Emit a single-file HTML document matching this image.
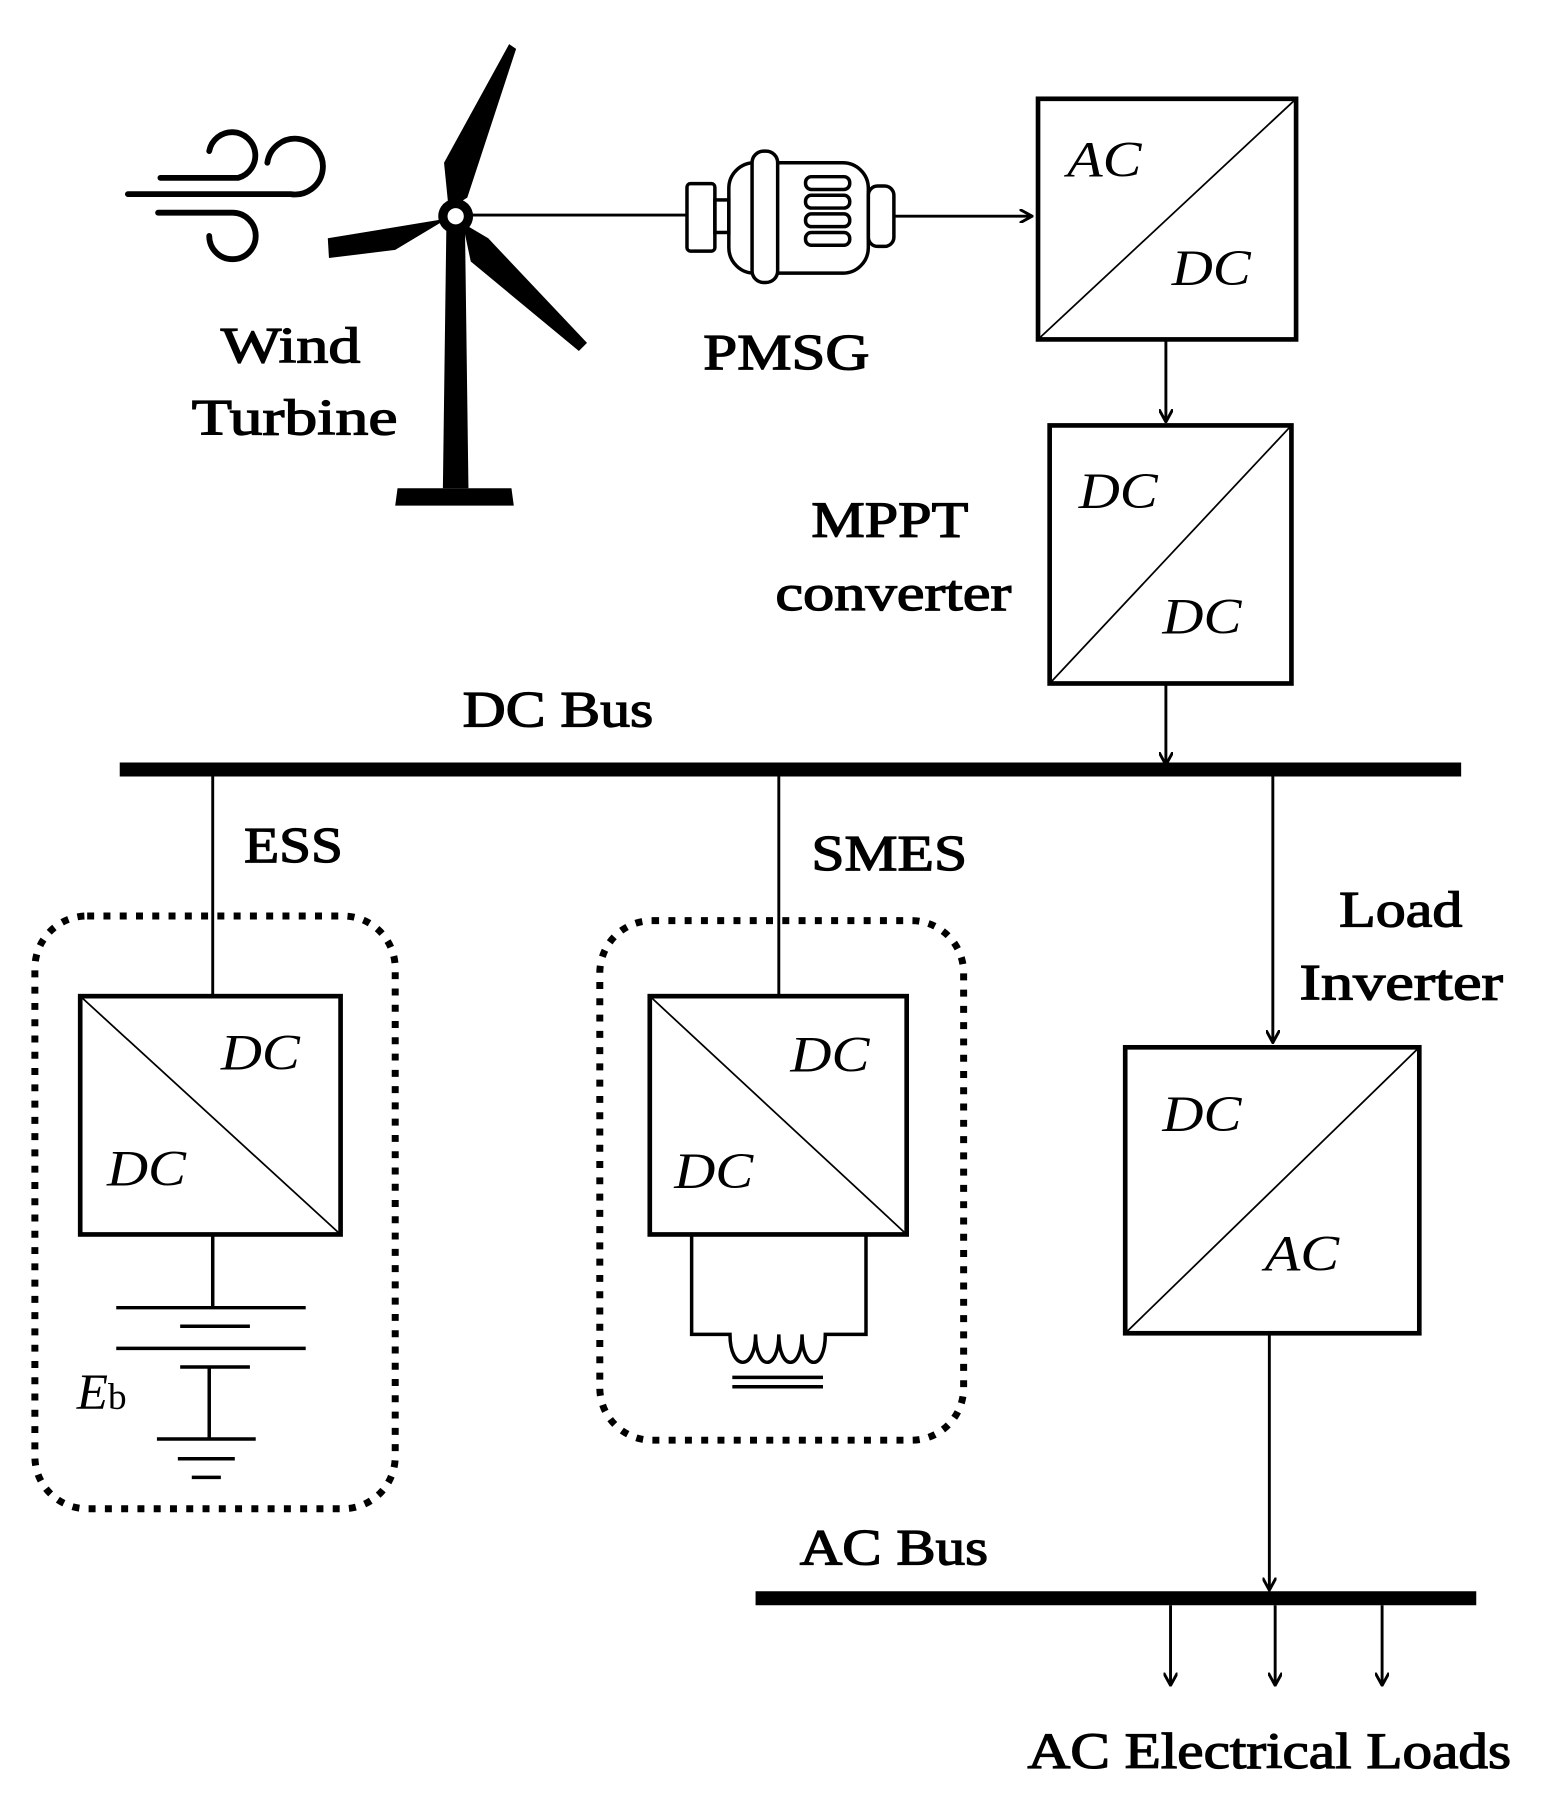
<!DOCTYPE html>
<html><head><meta charset="utf-8"><style>
html,body{margin:0;padding:0;background:#fff}
svg{display:block}
text{font-family:"Liberation Serif",serif;fill:#000}
.l{font-size:44px;stroke:#000;stroke-width:1.1}
.i{font-size:44px;font-style:italic}
</style></head><body>
<svg width="1546" height="1811" viewBox="0 0 1330 1558" preserveAspectRatio="none" xmlns="http://www.w3.org/2000/svg">
<defs><marker id="a" markerWidth="12" markerHeight="12" refX="11" refY="6" orient="auto" markerUnits="userSpaceOnUse"><path d="M0,0 L11,6 L0,12" fill="none" stroke="#000" stroke-width="2.5"/></marker></defs>
<g fill="none" stroke="#000" stroke-linecap="round">
<path d="M138,153 H205 A20,20 0 1 0 180,130" stroke-width="5"/>
<path d="M110,167 H250 A24,24 0 1 0 230,140" stroke-width="5"/>
<path d="M136,183 H200 A20,20 0 1 1 180,203" stroke-width="5"/>
</g>
<g fill="#000">
<path d="M384,195 L400,195 L403,420 L381,420 Z"/>
<path d="M342,420 L440,420 L442,435 L340,435 Z"/>
<path d="M386,180 L382,140 L438,38 L444,42 L402,170 Z"/>
<path d="M385,188 L282,205 L283,222 L340,215 Z"/>
<path d="M398,192 L420,205 L505,295 L498,302 L405,225 Z"/>
<circle cx="392" cy="186" r="15"/>
</g>
<circle cx="392" cy="186" r="7" fill="#fff"/>
<g fill="none" stroke="#000">
<line x1="405" y1="185" x2="590" y2="185" stroke-width="2.5"/>
<rect x="591" y="158" width="24" height="58" rx="3" stroke-width="3"/>
<rect x="615" y="172" width="12" height="28" stroke-width="3"/>
<rect x="627" y="140" width="120" height="95" rx="22" stroke-width="3"/>
<rect x="647" y="130" width="22" height="113" rx="10" stroke-width="3" fill="#fff"/>
<rect x="747" y="160" width="22" height="52" rx="8" stroke-width="3"/>
<rect x="693" y="152" width="38" height="11" rx="5" stroke-width="3"/>
<rect x="693" y="168" width="38" height="11" rx="5" stroke-width="3"/>
<rect x="693" y="184" width="38" height="11" rx="5" stroke-width="3"/>
<rect x="693" y="200" width="38" height="11" rx="5" stroke-width="3"/>
<line x1="770" y1="186" x2="888" y2="186" stroke-width="2.5" marker-end="url(#a)"/>
<rect x="893" y="85" width="222" height="207" stroke-width="4"/>
<line x1="893" y1="292" x2="1115" y2="85" stroke-width="1.5"/>
<line x1="1003" y1="292" x2="1003" y2="363" stroke-width="2.5" marker-end="url(#a)"/>
<rect x="903" y="366" width="208" height="222" stroke-width="4"/>
<line x1="903" y1="588" x2="1111" y2="366" stroke-width="1.5"/>
<line x1="1003" y1="588" x2="1003" y2="658" stroke-width="2.5" marker-end="url(#a)"/>
<line x1="103" y1="662" x2="1257" y2="662" stroke-width="12" stroke-linecap="butt"/>
<line x1="183" y1="662" x2="183" y2="857" stroke-width="2.5"/>
<line x1="670" y1="662" x2="670" y2="857" stroke-width="2.5"/>
<line x1="1095" y1="668" x2="1095" y2="897" stroke-width="2.5" marker-end="url(#a)"/>
<rect x="30" y="788" width="310" height="510" rx="45" stroke-width="6" stroke-dasharray="6 8"/>
<rect x="516" y="792" width="313" height="447" rx="45" stroke-width="6" stroke-dasharray="6 8"/>
<rect x="69" y="857" width="224" height="205" stroke-width="4" fill="#fff"/>
<line x1="69" y1="857" x2="293" y2="1062" stroke-width="1.5"/>
<line x1="183" y1="1062" x2="183" y2="1125" stroke-width="3"/>
<line x1="100" y1="1125" x2="263" y2="1125" stroke-width="3"/>
<line x1="155" y1="1141" x2="215" y2="1141" stroke-width="3"/>
<line x1="100" y1="1160" x2="263" y2="1160" stroke-width="3"/>
<line x1="155" y1="1176" x2="215" y2="1176" stroke-width="3"/>
<line x1="180" y1="1176" x2="180" y2="1238" stroke-width="3"/>
<line x1="135" y1="1238" x2="220" y2="1238" stroke-width="3"/>
<line x1="153" y1="1255" x2="202" y2="1255" stroke-width="3"/>
<line x1="165" y1="1271" x2="190" y2="1271" stroke-width="3"/>
<rect x="559" y="857" width="221" height="205" stroke-width="4" fill="#fff"/>
<line x1="559" y1="857" x2="780" y2="1062" stroke-width="1.5"/>
<path d="M595,1062 V1148 H628 C628,1180 650,1180 650,1148 C650,1180 670,1180 670,1148 C670,1180 690,1180 690,1148 C690,1180 710,1180 710,1148 H745 V1062" stroke-width="3"/>
<line x1="630" y1="1185" x2="708" y2="1185" stroke-width="3"/>
<line x1="630" y1="1193" x2="708" y2="1193" stroke-width="3"/>
<rect x="968" y="901" width="253" height="246" stroke-width="4"/>
<line x1="968" y1="1147" x2="1221" y2="901" stroke-width="1.5"/>
<line x1="1092" y1="1147" x2="1092" y2="1368" stroke-width="2.5" marker-end="url(#a)"/>
<line x1="650" y1="1375" x2="1270" y2="1375" stroke-width="12" stroke-linecap="butt"/>
<line x1="1007" y1="1381" x2="1007" y2="1450" stroke-width="2.5" marker-end="url(#a)"/>
<line x1="1097" y1="1381" x2="1097" y2="1450" stroke-width="2.5" marker-end="url(#a)"/>
<line x1="1189" y1="1381" x2="1189" y2="1450" stroke-width="2.5" marker-end="url(#a)"/>
</g>
<text class="l" x="190" y="312" textLength="120" lengthAdjust="spacingAndGlyphs">Wind</text>
<text class="l" x="165" y="374" textLength="177" lengthAdjust="spacingAndGlyphs">Turbine</text>
<text class="l" x="605" y="318" textLength="143" lengthAdjust="spacingAndGlyphs">PMSG</text>
<text class="l" x="698" y="462" textLength="135" lengthAdjust="spacingAndGlyphs">MPPT</text>
<text class="l" x="667" y="525" textLength="203" lengthAdjust="spacingAndGlyphs">converter</text>
<text class="l" x="398" y="625" textLength="164" lengthAdjust="spacingAndGlyphs">DC Bus</text>
<text class="l" x="210" y="742" textLength="85" lengthAdjust="spacingAndGlyphs">ESS</text>
<text class="l" x="698" y="749" textLength="134" lengthAdjust="spacingAndGlyphs">SMES</text>
<text class="l" x="1152" y="797" textLength="106" lengthAdjust="spacingAndGlyphs">Load</text>
<text class="l" x="1118" y="860" textLength="175" lengthAdjust="spacingAndGlyphs">Inverter</text>
<text class="l" x="688" y="1346" textLength="162" lengthAdjust="spacingAndGlyphs">AC Bus</text>
<text class="l" x="884" y="1521" textLength="416" lengthAdjust="spacingAndGlyphs">AC Electrical Loads</text>
<text class="i" x="918" y="152" textLength="64" lengthAdjust="spacingAndGlyphs">AC</text>
<text class="i" x="1008" y="245" textLength="68" lengthAdjust="spacingAndGlyphs">DC</text>
<text class="i" x="928" y="437" textLength="68" lengthAdjust="spacingAndGlyphs">DC</text>
<text class="i" x="1000" y="545" textLength="68" lengthAdjust="spacingAndGlyphs">DC</text>
<text class="i" x="190" y="920" textLength="68" lengthAdjust="spacingAndGlyphs">DC</text>
<text class="i" x="92" y="1020" textLength="68" lengthAdjust="spacingAndGlyphs">DC</text>
<text class="i" x="680" y="922" textLength="68" lengthAdjust="spacingAndGlyphs">DC</text>
<text class="i" x="580" y="1022" textLength="68" lengthAdjust="spacingAndGlyphs">DC</text>
<text class="i" x="1000" y="973" textLength="68" lengthAdjust="spacingAndGlyphs">DC</text>
<text class="i" x="1088" y="1093" textLength="64" lengthAdjust="spacingAndGlyphs">AC</text>
<text class="i" x="66" y="1212">E<tspan font-style="normal" font-size="32">b</tspan></text>
</svg>
</body></html>
